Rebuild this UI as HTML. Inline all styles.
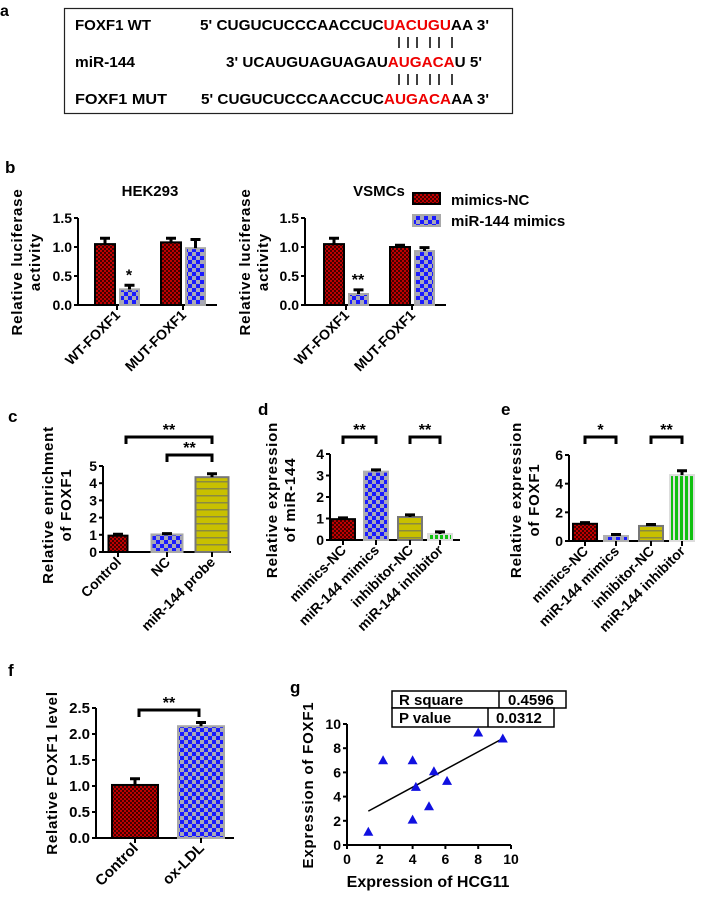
<!DOCTYPE html>
<html><head><meta charset="utf-8"><style>
html,body{margin:0;padding:0;background:#fff}
svg{display:block;font-family:"Liberation Sans",Arial,sans-serif;font-weight:bold}
</style></head><body>
<svg id="fig" width="703" height="898" viewBox="0 0 703 898" xmlns="http://www.w3.org/2000/svg">
<defs>
<pattern id="pRed" width="4" height="4" patternUnits="userSpaceOnUse"><rect width="4" height="4" fill="#c00000"/><rect width="2" height="2" fill="#400"/><rect x="2" y="2" width="2" height="2" fill="#400"/></pattern>
<pattern id="pBlue" width="8" height="8" patternUnits="userSpaceOnUse"><rect width="8" height="8" fill="#a8a8b8"/><rect width="4" height="4" fill="#1a1aff"/><rect x="4" y="4" width="4" height="4" fill="#1a1aff"/></pattern>
<pattern id="pYel" width="6" height="7" patternUnits="userSpaceOnUse"><rect width="6" height="7" fill="#c8c000"/><rect y="5" width="6" height="1.5" fill="#8a8a40"/></pattern>
<pattern id="pGreen" width="5" height="5" patternUnits="userSpaceOnUse"><rect width="5" height="5" fill="#e0e0e0"/><rect width="3" height="5" fill="#10c010"/></pattern>
</defs>
<g>
<text x="0" y="16" font-size="16">a</text>
<rect x="64.5" y="8.5" width="448" height="105" fill="none" stroke="#222" stroke-width="1.2"/>
<g font-size="15">
<text x="75" y="30" textLength="76" lengthAdjust="spacingAndGlyphs">FOXF1 WT</text>
<text x="75" y="67" textLength="60" lengthAdjust="spacingAndGlyphs">miR-144</text>
<text x="75" y="104" textLength="92" lengthAdjust="spacingAndGlyphs">FOXF1  MUT</text>
<text x="200" y="30" textLength="289" lengthAdjust="spacingAndGlyphs">5' CUGUCUCCCAACCUC<tspan fill="#e00">UACUGU</tspan>AA 3'</text>
<text x="226" y="67" textLength="256" lengthAdjust="spacingAndGlyphs">3' UCAUGUAGUAGAU<tspan fill="#e00">AUGACA</tspan>U 5'</text>
<text x="201" y="104" textLength="288" lengthAdjust="spacingAndGlyphs">5' CUGUCUCCCAACCUC<tspan fill="#e00">AUGACA</tspan>AA 3'</text>
</g>
<g stroke="#000" stroke-width="1.5">
<path d="M399 37v11M408 37v11M417 37v11M430 37v11M439 37v11M452 37v11"/>
<path d="M399 74v11M408 74v11M417 74v11M430 74v11M439 74v11M452 74v11"/>
</g>
</g>
<g id="charts"></g>
</svg>
<script>
// ---- data ----
const bGroups = ["WT-FOXF1", "MUT-FOXF1"];
const hekNC = [1.05, 1.08];
const hekNCerr = [0.1, 0.07];
const hekMim = [0.27, 0.98];
const hekMimErr = [0.07, 0.15];
const vsmNC = [1.05, 1.0];
const vsmNCerr = [0.1, 0.03];
const vsmMim = [0.19, 0.93];
const vsmMimErr = [0.07, 0.06];
const bTicks = ["0.0", "0.5", "1.0", "1.5"];
const cCats = ["Control", "NC", "miR-144 probe"];
const cVals = [0.95, 1.02, 4.35];
const cErr = [0.08, 0.05, 0.2];
const cTicks = ["0", "1", "2", "3", "4", "5"];
const deCats = ["mimics-NC", "miR-144 mimics", "inhibitor-NC", "miR-144 inhibitor"];
const dVals = [0.97, 3.18, 1.07, 0.28];
const dErr = [0.06, 0.08, 0.1, 0.1];
const dTicks = ["0", "1", "2", "3", "4"];
const eVals = [1.2, 0.35, 1.05, 4.6];
const eErr = [0.08, 0.1, 0.1, 0.3];
const eTicks = ["0", "2", "4", "6"];
const fCats = ["Control", "ox-LDL"];
const fVals = [1.02, 2.15];
const fErr = [0.12, 0.07];
const fTicks = ["0.0", "0.5", "1.0", "1.5", "2.0", "2.5"];
const gX = [1.3, 2.2, 4.0, 4.0, 4.2, 5.0, 5.3, 6.1, 8.0, 9.5];
const gY = [1.1, 7.0, 7.0, 2.1, 4.8, 3.2, 6.1, 5.3, 9.3, 8.8];
const gFitX = [1.3, 9.5];
const gFitY = [2.8, 8.8];
const gTicks = ["0", "2", "4", "6", "8", "10"];

const NS = "http://www.w3.org/2000/svg";
const root = document.getElementById("charts");
function el(tag, attrs, parent, txt) {
  const e = document.createElementNS(NS, tag);
  for (const k in attrs) e.setAttribute(k, attrs[k]);
  if (txt !== undefined) e.textContent = txt;
  (parent || root).appendChild(e);
  return e;
}
function mkScale(d0, d1, r0, r1) { return v => r0 + (v - d0) / (d1 - d0) * (r1 - r0); }

function axes(g, x0, x1, y0, y1, ticks, fs) {
  const n = ticks.length - 1;
  const tmax = parseFloat(ticks[n]);
  const ys = mkScale(0, tmax, y0, y1);
  el("path", {d: `M${x0} ${y1}V${y0}H${x1}`, stroke: "#000", "stroke-width": 2, fill: "none"}, g);
  ticks.forEach(t => {
    const y = ys(parseFloat(t));
    el("path", {d: `M${x0-4} ${y}H${x0}`, stroke: "#000", "stroke-width": 2}, g);
    const tl = el("text", {x: x0 - 6, y: y + 5, "font-size": fs || 14, "text-anchor": "end"}, g, t);
    
    
  });
  return ys;
}
function bar(g, x, w, v, err, ys, fill, stroke, name) {
  const y0 = ys(0), y = ys(v), ye = ys(v + err);
  const r = el("rect", {x: x, y: y, width: w, height: y0 - y, fill: fill, stroke: stroke, "stroke-width": 2}, g);
  
  
  const eb = el("path", {d: `M${x+w/2} ${y}V${ye}M${x+w/2-5} ${ye}H${x+w/2+5}`, stroke: "#000", "stroke-width": 3}, g);
  
  
}
function xlabel(g, x, y, t, fs) {
  const e = el("text", {x: x, y: y, "font-size": fs || 13, "text-anchor": "end", transform: `rotate(-45 ${x} ${y})`}, g, t);
  
  
}
function tickX(g, x, y) { el("path", {d: `M${x} ${y}v5`, stroke: "#000", "stroke-width": 2}, g); }
function ylab(g, x, y, lines, fs) {
  lines.forEach((l, i) => {
    const e = el("text", {x: x + i * (fs + 3), y: y, "font-size": fs, "text-anchor": "middle", "letter-spacing": 0.8, transform: `rotate(-90 ${x + i*(fs+3)} ${y})`}, g, l);
    
    
  });
}
function bracket(g, xa, xb, y, stars) {
  const b = el("path", {d: `M${xa} ${y+7}V${y}H${xb}V${y+7}`, stroke: "#000", "stroke-width": 3, fill: "none"}, g);
  
  
  const t = el("text", {x: (xa+xb)/2, y: y - 2, "font-size": 16, "text-anchor": "middle"}, g, stars);
  
  
}
function label(t, x, y) {
  const e = el("text", {x: x, y: y, "font-size": 17}, root, t);
  
  
}

// ---- panel b ----
label("b", 5, 173);
function lucPanel(name, ax, axEnd, title, tx, nc, ncE, mm, mmE, grpX, ylx, stars) {
  const g = el("g", {});  
  const ys = axes(g, ax, axEnd, 305, 218, bTicks, 14);
  const tt = el("text", {x: tx, y: 196, "font-size": 15, "text-anchor": "middle"}, g, title);
   
  bGroups.forEach((c, i) => {
    const gx = grpX[i];
    bar(g, gx - 22, 20, nc[i], ncE[i], ys, "url(#pRed)", "#000", "bar-mimics-nc");
    bar(g, gx + 3, 19, mm[i], mmE[i], ys, "url(#pBlue)", "#a8a8a8", "bar-mir144-mimics");
    tickX(g, gx, 305);
    xlabel(g, gx + 4, 316, c, 14);
  });
  const st = el("text", {x: grpX[0] + 12, y: ys(mm[0] + mmE[0]) - 5, "font-size": 16, "text-anchor": "middle"}, g, stars);
   
  ylab(g, ylx, 262, ["Relative luciferase", "activity"], 15);
}
lucPanel("chart-hek293", 78, 217, "HEK293", 150, hekNC, hekNCerr, hekMim, hekMimErr, [117, 183], 22, "*");
lucPanel("chart-vsmcs", 305, 446, "VSMCs", 379, vsmNC, vsmNCerr, vsmMim, vsmMimErr, [346, 412], 250, "**");
(function(){
  const g = el("g", {});  
  el("rect", {x: 413, y: 193, width: 27, height: 11, fill: "url(#pRed)", stroke: "#000", "stroke-width": 2}, g);
  el("text", {x: 451, y: 205, "font-size": 15}, g, "mimics-NC");
  el("rect", {x: 413, y: 215, width: 27, height: 11, fill: "url(#pBlue)", stroke: "#a8a8a8", "stroke-width": 2}, g);
  el("text", {x: 451, y: 226, "font-size": 15}, g, "miR-144 mimics");
})();

// ---- panel c ----
label("c", 8, 422);
(function(){
  const g = el("g", {});  
  const ys = axes(g, 103, 231, 552, 466, cTicks, 14);
  const xs = [118, 167, 212], ws = [19, 31, 33], fills = ["url(#pRed)", "url(#pBlue)", "url(#pYel)"], st = ["#000", "#a8a8a8", "#777"];
  cCats.forEach((c, i) => {
    bar(g, xs[i] - ws[i]/2, ws[i], cVals[i], cErr[i], ys, fills[i], st[i], "bar-" + c.replace(/ /g,'-').toLowerCase());
    tickX(g, xs[i], 552);
    xlabel(g, xs[i] + 4, 563, c, 14);
  });
  bracket(g, xs[0] + 8, xs[2], 437, "**");
  bracket(g, xs[1], xs[2], 455, "**");
  ylab(g, 53, 505, ["Relative enrichment", "of FOXF1"], 15);
})();

// ---- panel d / e ----
function exprPanel(name, ax, axEnd, y0, yT, ticks, vals, errs, xs, ylx, l2, br) {
  const g = el("g", {});  
  const ys = axes(g, ax, axEnd, y0, yT, ticks, 14);
  const fills = ["url(#pRed)", "url(#pBlue)", "url(#pYel)", "url(#pGreen)"], st = ["#000", "#b0b0b0", "#777", "#ddd"];
  deCats.forEach((c, i) => {
    bar(g, xs[i] - 12, 24, vals[i], errs[i], ys, fills[i], st[i], "bar-" + c.replace(/ /g,'-').toLowerCase());
    tickX(g, xs[i], y0);
    xlabel(g, xs[i] + 4, y0 + 11, c, 14);
  });
  br.forEach(b => bracket(g, xs[b[0]], xs[b[1]], 437, b[2]));
  ylab(g, ylx, 500, ["Relative expression", l2], 15);
}
label("d", 258, 415);
exprPanel("chart-d-mir144", 330, 460, 540, 454, dTicks, dVals, dErr, [343, 376, 410, 440], 277, "of miR-144", [[0,1,"**"],[2,3,"**"]]);
label("e", 501, 415);
exprPanel("chart-e-foxf1", 569, 695, 541, 455, eTicks, eVals, eErr, [585, 616, 651, 682], 521, "of FOXF1", [[0,1,"*"],[2,3,"**"]]);

// ---- panel f ----
label("f", 8, 676);
(function(){
  const g = el("g", {});  
  const ys = axes(g, 96, 234, 838, 708, fTicks, 15);
  const xs = [135, 201], fills = ["url(#pRed)", "url(#pBlue)"], st = ["#000", "#a8a8a8"];
  fCats.forEach((c, i) => {
    bar(g, xs[i] - 23, 46, fVals[i], fErr[i], ys, fills[i], st[i], "bar-" + c.toLowerCase());
    tickX(g, xs[i], 838);
    xlabel(g, xs[i] + 4, 849, c, 15);
  });
  bracket(g, 139, 199, 710, "**");
  ylab(g, 57, 773, ["Relative FOXF1 level"], 15);
})();

// ---- panel g ----
label("g", 290, 693);
(function(){
  const g = el("g", {});  
  const ys = axes(g, 347, 511, 845, 724, gTicks, 14);
  const xs = mkScale(0, 10, 347, 511);
  gTicks.forEach(t => {
    const x = xs(parseFloat(t));
    el("path", {d: `M${x} 845v4`, stroke: "#000", "stroke-width": 2}, g);
    const tl = el("text", {x: x, y: 864, "font-size": 14, "text-anchor": "middle"}, g, t);
     
  });
  const fit = el("line", {x1: xs(gFitX[0]), y1: ys(gFitY[0]), x2: xs(gFitX[1]), y2: ys(gFitY[1]), stroke: "#000", "stroke-width": 1.5}, g);
   
  gX.forEach((v, i) => {
    const x = xs(v), y = ys(gY[i]);
    const p = el("polygon", {points: `${x},${y-5} ${x-5},${y+4} ${x+5},${y+4}`, fill: "#1010e0"}, g);
     
  });
  const tb = el("g", {"font-size": 15}, g);
   
  el("rect", {x: 392, y: 691, width: 174, height: 17, fill: "#fff", stroke: "#000", "stroke-width": 1.5}, tb);
  el("line", {x1: 499, y1: 691, x2: 499, y2: 708, stroke: "#000", "stroke-width": 1.5}, tb);
  el("rect", {x: 392, y: 708, width: 162, height: 19, fill: "#fff", stroke: "#000", "stroke-width": 1.5}, tb);
  el("line", {x1: 488, y1: 708, x2: 488, y2: 727, stroke: "#000", "stroke-width": 1.5}, tb);
  el("text", {x: 399, y: 705}, tb, "R square");
  el("text", {x: 508, y: 705}, tb, "0.4596");
  el("text", {x: 399, y: 723}, tb, "P value");
  el("text", {x: 496, y: 723}, tb, "0.0312");
  ylab(g, 313, 785, ["Expression of FOXF1"], 15);
  const xl = el("text", {x: 428, y: 887, "font-size": 16, "text-anchor": "middle"}, g, "Expression of HCG11");
   
})();
</script>
</body></html>
